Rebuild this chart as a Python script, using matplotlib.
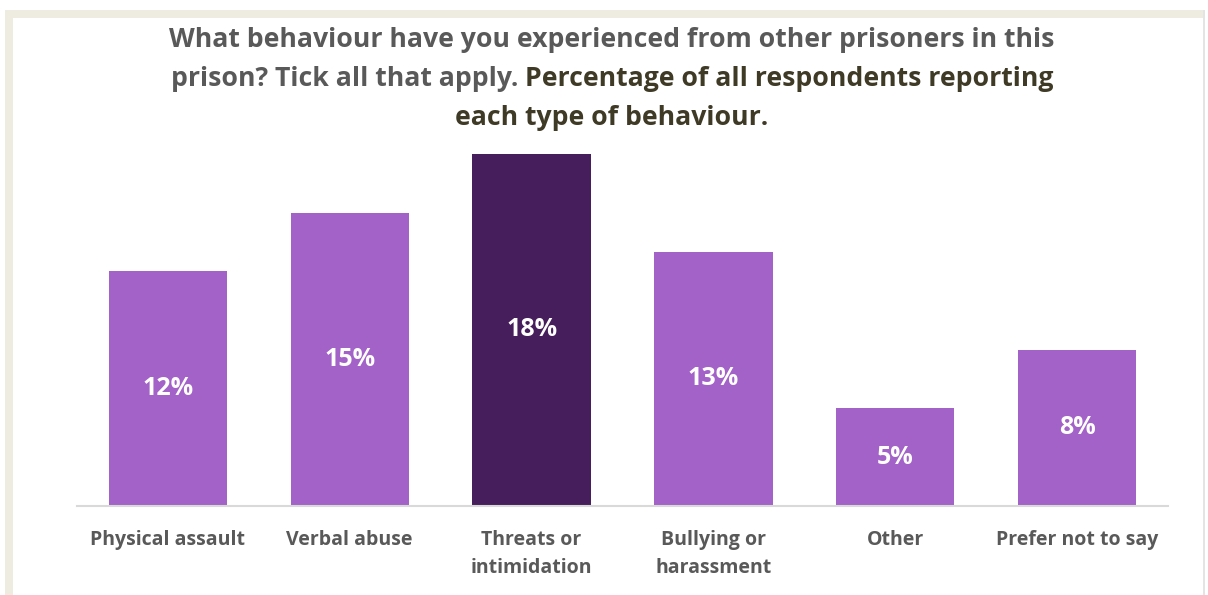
import matplotlib
matplotlib.use("Agg")
import matplotlib.pyplot as plt
from matplotlib.patches import Rectangle

categories = ["Physical assault", "Verbal abuse", "Threats or\nintimidation",
              "Bullying or\nharassment", "Other", "Prefer not to say"]
values = [12, 15, 18, 13, 5, 8]
labels = ["12%", "15%", "18%", "13%", "5%", "8%"]
highlight = 2

BAR = "#A262C8"
BAR_DARK = "#461E5C"
GREY = "#595959"
OLIVE = "#3F3A26"
FONT = ["Open Sans", "DejaVu Sans"]

W, H = 1208, 595
fig = plt.figure(figsize=(W / 100, H / 100), dpi=100)
fig.patch.set_facecolor("white")

# beige frame around the chart area
fig.patches.append(Rectangle((5 / W, 0), 1198 / W, (H - 10) / H,
                             transform=fig.transFigure, facecolor="#EEEBE0",
                             edgecolor="none", zorder=-2))
fig.patches.append(Rectangle((13 / W, 0), 1190 / W, (H - 18) / H,
                             transform=fig.transFigure, facecolor="white",
                             edgecolor="none", zorder=-1))
fig.patches.append(Rectangle((1203 / W, 0), 2 / W, (H - 10) / H,
                             transform=fig.transFigure, facecolor="#E4E4E4",
                             edgecolor="none", zorder=-1))

ax = fig.add_axes([77 / W, (H - 506) / H, (1168 - 77) / W, (506 - 154) / H])
ax.set_zorder(1)
ax.set_facecolor("none")
x = range(len(values))
colors = [BAR_DARK if i == highlight else BAR for i in x]
bars = ax.bar(x, values, width=0.65, color=colors, zorder=2)
ax.set_xlim(-0.5, len(values) - 0.5)
ax.set_ylim(0, 18)

for b, v, lab in zip(bars, values, labels):
    ax.text(b.get_x() + b.get_width() / 2, v / 2, lab, ha="center", va="center",
            color="white", fontsize=18, fontweight="bold", family=FONT)

for s in ["top", "right", "left"]:
    ax.spines[s].set_visible(False)
ax.spines["bottom"].set_color("#D9D9D9")
ax.spines["bottom"].set_linewidth(1.5)
ax.set_yticks([])
ax.set_xticks(list(x))
ax.set_xticklabels(categories, fontsize=14, fontweight="bold", color=GREY,
                   family=FONT, linespacing=1.55, va="top")
ax.tick_params(axis="x", length=0, pad=17)

# title: three centred lines, second line in two colours
cx = 612 / W
tkw = dict(fontsize=19.2, fontweight="bold", family=FONT, va="center")
fig.text(cx, 1 - 40 / H, "What behaviour have you experienced from other prisoners in this",
         ha="center", color=GREY, **tkw)
fig.text(cx, 1 - 118 / H, "each type of behaviour.", ha="center", color=OLIVE, **tkw)

part1 = "prison? Tick all that apply. "
part2 = "Percentage of all respondents reporting"
r = fig.canvas.get_renderer()
t1 = fig.text(0, 1 - 79 / H, part1, ha="left", color=GREY, **tkw)
t2 = fig.text(0, 1 - 79 / H, part2, ha="left", color=OLIVE, **tkw)
w1 = t1.get_window_extent(r).width / W
w2 = t2.get_window_extent(r).width / W
x0 = cx - (w1 + w2) / 2
t1.set_x(x0)
t2.set_x(x0 + w1)

fig.savefig("out.png", dpi=100)
